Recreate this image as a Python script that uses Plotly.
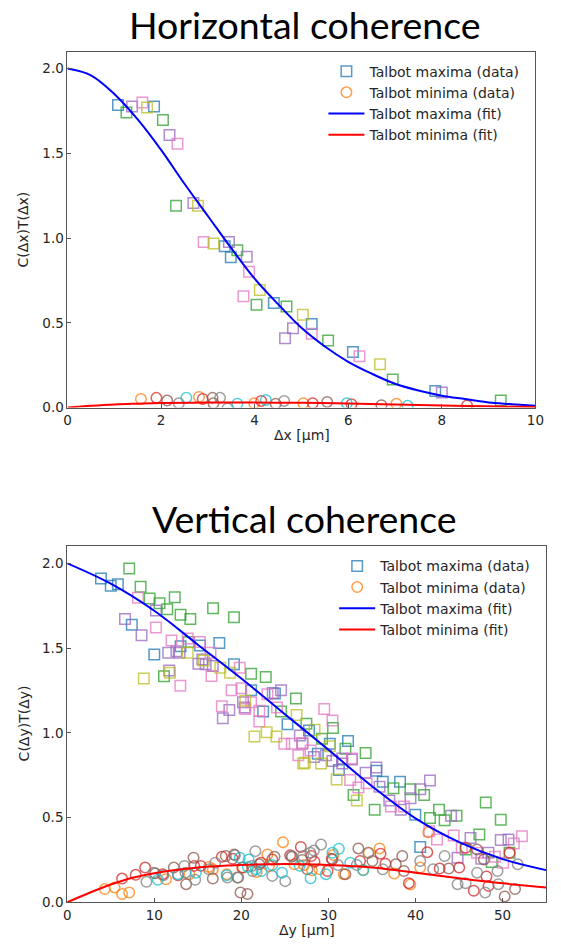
import plotly.graph_objects as go

W, H = 561, 948

# ---------------- Horizontal scan (Δx, μm) ----------------
# Talbot maxima, one list of (Δx, C·T) pairs per run
h_max_run1 = [(1.08, 1.785), (1.85, 1.776), (3.36, 0.951), (3.49, 0.887), (4.41, 0.616),
              (5.22, 0.493), (6.10, 0.327), (7.86, 0.097)]
h_max_run2 = [(1.26, 1.741), (2.04, 1.696), (2.32, 1.191), (3.63, 0.928), (4.04, 0.606),
              (4.68, 0.596), (5.57, 0.396), (6.95, 0.166), (9.26, 0.041)]
h_max_run3 = [(1.38, 1.776), (2.18, 1.608), (2.69, 1.206), (3.45, 0.977), (3.83, 0.889),
              (4.65, 0.409), (4.82, 0.468), (8.00, 0.088)]
h_max_run4 = [(1.60, 1.800), (2.35, 1.556), (2.91, 0.977), (3.76, 0.657), (3.88, 0.801),
              (5.22, 0.435), (6.24, 0.302)]
h_max_run5 = [(1.70, 1.770), (2.79, 1.191), (3.12, 0.967), (4.11, 0.694), (5.03, 0.548),
              (6.68, 0.255)]

# Talbot minima per run
h_min_run1 = [(1.57, 0.051), (2.81, 0.062), (3.99, 0.025), (5.04, 0.025), (7.03, 0.022)]
h_min_run2 = [(1.90, 0.057), (2.89, 0.051), (4.14, 0.039), (5.24, 0.025), (6.07, 0.019),
              (8.54, 0.012)]
h_min_run3 = [(2.13, 0.041), (3.10, 0.057), (3.12, 0.025), (4.45, 0.023), (5.55, 0.033),
              (6.71, 0.014)]
h_min_run4 = [(2.38, 0.025), (3.26, 0.057), (3.42, -0.005), (4.63, 0.039)]
h_min_run5 = [(2.54, 0.058), (3.63, 0.022), (4.24, 0.045), (5.97, 0.025), (7.27, 0.010)]

# Fitted curves
h_fit_x = [0, 0.5, 1, 1.5, 2, 2.5, 3, 3.5, 4, 4.5, 5, 5.5, 6, 6.5, 7, 7.5, 8, 8.5, 9, 9.5, 10]
h_fit_max = [2.00, 1.96, 1.85, 1.70, 1.52, 1.32, 1.13, 0.94, 0.76, 0.61, 0.47, 0.36, 0.27,
             0.20, 0.14, 0.10, 0.07, 0.05, 0.03, 0.02, 0.01]
h_fit_min_x = [0, 0.5, 1, 1.5, 2, 3, 4, 5, 6, 7, 8, 9, 10]
h_fit_min = [0.0, 0.010, 0.018, 0.023, 0.027, 0.029, 0.029, 0.028, 0.024, 0.018, 0.012,
             0.007, 0.003]

# ---------------- Vertical scan (Δy, μm) ----------------
v_max_run1 = [(3.88, 1.910), (5.00, 1.868), (5.82, 1.877), (7.42, 1.637), (10.0, 1.462),
              (13.02, 1.511), (15.26, 1.515), (17.47, 1.530), (19.15, 1.404), (21.12, 1.251),
              (22.5, 1.125), (23.85, 1.232), (25.3, 1.050), (27.77, 1.014), (30.16, 0.936),
              (28.78, 0.877), (32.25, 0.951), (31.2, 0.780), (35.5, 0.776), (36.24, 0.711),
              (38.22, 0.711), (39.98, 0.516), (40.54, 0.327)]
v_max_run2 = [(7.12, 1.969), (8.43, 1.862), (9.47, 1.793), (10.6, 1.764), (12.35, 1.799),
              (11.49, 1.729), (13.02, 1.696), (14.14, 1.672), (16.75, 1.735), (19.15, 1.682),
              (13.95, 1.536), (11.12, 1.333), (21.12, 1.349), (22.8, 1.329), (26.27, 1.203),
              (24.56, 1.125), (27.47, 1.053), (30.53, 1.029), (29.26, 0.965), (31.95, 0.906),
              (34.27, 0.881), (32.88, 0.633), (35.31, 0.546), (37.47, 0.673), (39.42, 0.667),
              (40.99, 0.633), (41.66, 0.497), (42.7, 0.546), (43.34, 0.484), (44.71, 0.510),
              (45.76, 0.312), (47.33, 0.400), (48.07, 0.589), (48.75, 0.238), (49.79, 0.487),
              (50.8, 0.292)]
v_max_run3 = [(10.19, 1.721), (6.64, 1.672), (8.54, 1.575), (11.6, 1.472), (12.91, 1.472),
              (12.54, 1.481), (11.71, 1.368), (15.07, 1.408), (15.9, 1.404), (15.52, 1.433),
              (16.72, 1.394), (18.62, 1.135), (17.87, 1.086), (20.38, 1.150), (20.19, 1.180),
              (24.56, 1.251), (23.6, 1.235), (26.72, 0.984), (27.0, 0.936), (28.33, 0.858),
              (29.71, 0.867), (30.46, 0.834), (31.58, 0.848), (31.58, 0.819), (32.7, 0.842),
              (35.5, 0.795), (34.27, 0.764), (35.87, 0.682), (36.99, 0.600), (39.42, 0.614),
              (40.54, 0.667), (41.66, 0.718), (38.3, 0.546), (44.08, 0.510), (44.83, 0.263),
              (46.32, 0.380), (47.55, 0.257), (48.38, 0.292), (49.79, 0.367), (50.68, 0.370)]
v_max_run4 = [(8.13, 1.797), (10.19, 1.622), (11.98, 1.544), (13.84, 1.556), (15.23, 1.536),
              (16.46, 1.472), (19.82, 1.384), (12.99, 1.277), (16.57, 1.335), (18.88, 1.251),
              (20.0, 1.263), (20.45, 1.140), (21.12, 1.180), (22.06, 1.130), (24.1, 1.150),
              (22.99, 1.228), (17.76, 1.156), (22.06, 1.066), (24.93, 0.936), (25.79, 0.936),
              (27.02, 0.940), (26.54, 0.867), (27.95, 0.896), (29.52, 1.140), (30.46, 1.072),
              (32.7, 0.848), (32.5, 0.721), (33.44, 0.678), (34.38, 0.702), (37.18, 0.565),
              (38.67, 0.565), (41.58, 0.419), (42.47, 0.370), (44.38, 0.394), (45.31, 0.322),
              (47.07, 0.292), (49.12, 0.269), (50.06, 0.234), (51.29, 0.347), (52.22, 0.390)]
v_max_run5 = [(13.84, 1.472), (15.7, 1.427), (17.58, 1.384), (8.8, 1.320), (11.8, 1.355),
              (18.7, 1.355), (20.45, 1.189), (21.5, 0.978), (22.91, 1.004), (24.03, 0.978),
              (26.35, 1.105), (28.4, 1.018), (27.1, 0.819), (27.28, 0.823), (29.15, 0.819),
              (30.16, 0.920), (30.94, 0.725), (33.26, 0.600)]

v_min_run1 = [(4.32, 0.078), (5.44, 0.088), (6.3, 0.049), (7.12, 0.058), (11.34, 0.136),
              (14.03, 0.166), (16.27, 0.209), (16.72, 0.195), (18.32, 0.166), (20.19, 0.205),
              (21.76, 0.179), (22.99, 0.282), (23.18, 0.215), (24.78, 0.355), (26.09, 0.224),
              (27.21, 0.220), (28.1, 0.189), (28.96, 0.195), (30.57, 0.279), (31.76, 0.166),
              (34.64, 0.292), (35.87, 0.318), (34.0, 0.190), (37.55, 0.170), (39.4, 0.105),
              (40.54, 0.205), (41.47, 0.413)]
v_min_run2 = [(6.3, 0.140), (7.87, 0.162), (8.95, 0.205), (10.97, 0.166), (12.72, 0.160),
              (14.59, 0.215), (15.34, 0.215), (17.76, 0.269), (19.0, 0.257), (20.11, 0.205),
              (22.24, 0.234), (23.55, 0.253), (25.6, 0.277), (26.83, 0.327), (28.03, 0.273),
              (28.4, 0.240), (29.9, 0.185), (30.38, 0.257), (33.63, 0.244), (35.98, 0.287),
              (36.54, 0.228), (39.23, 0.113), (41.35, 0.296), (42.77, 0.199), (45.02, 0.205),
              (45.76, 0.322), (46.69, 0.068), (48.15, 0.152), (48.38, 0.097), (50.8, 0.292)]
v_min_run3 = [(10.11, 0.171), (12.24, 0.205), (13.66, 0.107), (14.51, 0.263), (16.72, 0.140),
              (18.21, 0.273), (19.18, 0.282), (19.63, 0.146), (19.9, 0.058), (20.7, 0.049),
              (22.06, 0.224), (23.81, 0.269), (25.8, 0.269), (27.0, 0.250), (27.58, 0.195),
              (30.46, 0.253), (31.95, 0.166), (33.44, 0.318), (35.05, 0.244), (37.74, 0.224),
              (38.48, 0.273), (38.67, 0.185), (43.82, 0.199), (47.07, 0.312), (47.85, 0.253),
              (50.24, 0.035), (51.43, 0.078)]
v_min_run4 = [(9.1, 0.121), (9.92, 0.175), (11.04, 0.160), (13.47, 0.215), (13.58, 0.175),
              (14.7, 0.133), (16.27, 0.195), (17.0, 0.234), (18.4, 0.146), (19.26, 0.277),
              (19.55, 0.146), (21.2, 0.215), (21.3, 0.185), (21.61, 0.302), (23.55, 0.156),
              (25.04, 0.125), (25.79, 0.273), (27.1, 0.273), (27.92, 0.292), (28.33, 0.306),
              (29.15, 0.341), (31.09, 0.220), (33.26, 0.220), (34.56, 0.292), (36.24, 0.195),
              (40.54, 0.244), (42.03, 0.195), (43.34, 0.273), (44.83, 0.107), (45.76, 0.113),
              (47.07, 0.175), (48.0, 0.058), (49.42, 0.185), (49.5, 0.107), (51.74, 0.224)]
v_min_run5 = [(10.41, 0.133), (12.72, 0.166), (14.78, 0.175), (18.32, 0.160), (19.82, 0.263),
              (20.75, 0.209), (20.83, 0.253), (21.68, 0.195), (22.32, 0.185), (23.55, 0.220),
              (24.67, 0.175), (26.7, 0.215), (27.95, 0.142), (29.71, 0.166), (30.46, 0.292),
              (31.2, 0.316), (32.5, 0.234), (34.0, 0.189)]

v_fit_x = [0, 5, 10, 15, 20, 25, 30, 35, 40, 45, 50, 55]
v_fit_max = [2.00, 1.88, 1.72, 1.52, 1.32, 1.11, 0.90, 0.685, 0.495, 0.355, 0.255, 0.19]
v_fit_min_x = [0, 2.5, 5, 7.5, 10, 15, 20, 25, 30, 35, 40, 45, 50, 55]
v_fit_min = [0.0, 0.055, 0.105, 0.145, 0.172, 0.205, 0.22, 0.226, 0.22, 0.205, 0.175,
             0.142, 0.112, 0.088]

x_ticks_h = [0, 2, 4, 6, 8, 10]
x_ticks_v = [0, 10, 20, 30, 40, 50]
y_ticks = [0.0, 0.5, 1.0, 1.5, 2.0]

# matplotlib tab10 cycle: maxima take even slots, minima odd slots
MAX_COLORS = ["#1f77b4", "#2ca02c", "#9467bd", "#e377c2", "#bcbd22"]
MIN_COLORS = ["#ff7f0e", "#d62728", "#8c564b", "#7f7f7f", "#17becf"]

FONT = "DejaVu Sans"
TXT = "#262626"

fig = go.Figure()


def add_runs(runs, colors, symbol, xa, ya, legend, name, size):
    for i, (run, col) in enumerate(zip(runs, colors)):
        fig.add_trace(go.Scatter(
            x=[p[0] for p in run], y=[p[1] for p in run],
            mode="markers", xaxis=xa, yaxis=ya,
            marker=dict(symbol=symbol, size=size, color=col, opacity=0.75,
                        line=dict(width=1.5, color=col)),
            name=name, showlegend=(i == 0), legend=legend,
        ))


def add_fit(xs, ys, color, xa, ya, legend, name):
    fig.add_trace(go.Scatter(
        x=xs, y=ys, mode="lines", xaxis=xa, yaxis=ya,
        line=dict(color=color, width=2, shape="spline", smoothing=1.0),
        name=name, legend=legend,
    ))


# Horizontal panel
add_runs([h_max_run1, h_max_run2, h_max_run3, h_max_run4, h_max_run5], MAX_COLORS,
         "square-open", "x", "y", "legend", "Talbot maxima (data)", 10.5)
add_runs([h_min_run1, h_min_run2, h_min_run3, h_min_run4, h_min_run5], MIN_COLORS,
         "circle-open", "x", "y", "legend", "Talbot minima (data)", 10.5)
add_fit(h_fit_x, h_fit_max, "#0000ff", "x", "y", "legend", "Talbot maxima (fit)")
add_fit(h_fit_min_x, h_fit_min, "#ff0000", "x", "y", "legend", "Talbot minima (fit)")

# Vertical panel
add_runs([v_max_run1, v_max_run2, v_max_run3, v_max_run4, v_max_run5], MAX_COLORS,
         "square-open", "x2", "y2", "legend2", "Talbot maxima (data)", 10.5)
add_runs([v_min_run1, v_min_run2, v_min_run3, v_min_run4, v_min_run5], MIN_COLORS,
         "circle-open", "x2", "y2", "legend2", "Talbot minima (data)", 10.5)
add_fit(v_fit_x, v_fit_max, "#0000ff", "x2", "y2", "legend2", "Talbot maxima (fit)")
add_fit(v_fit_min_x, v_fit_min, "#ff0000", "x2", "y2", "legend2", "Talbot minima (fit)")


def px_x(p):
    return p / W


def px_y(p):
    return 1 - p / H


axis_common = dict(
    showline=True, mirror=True, linecolor="#555555", linewidth=1,
    ticks="inside", ticklen=4, tickwidth=1, tickcolor="#555555",
    showgrid=False, zeroline=False,
    tickfont=dict(family=FONT, size=13.5, color=TXT),
)

legend_common = dict(
    bgcolor="rgba(0,0,0,0)", borderwidth=0, traceorder="normal",
    font=dict(family=FONT, size=14, color=TXT), itemwidth=36,
    xanchor="left", yanchor="top", itemsizing="trace",
)

fig.update_layout(
    width=W, height=H, margin=dict(l=0, r=0, t=0, b=0),
    paper_bgcolor="white", plot_bgcolor="white",
    xaxis=dict(domain=[px_x(65), px_x(544)], range=[0, 10], tickvals=x_ticks_h,
               anchor="y", **axis_common),
    yaxis=dict(domain=[px_y(411), px_y(52)], range=[0, 2.1], tickvals=y_ticks,
               tickformat=".1f", anchor="x", **axis_common),
    xaxis2=dict(domain=[px_x(64.7), px_x(555)], range=[0, 55], tickvals=x_ticks_v,
                anchor="y2", **axis_common),
    yaxis2=dict(domain=[px_y(910), px_y(551)], range=[0, 2.1], tickvals=y_ticks,
                tickformat=".1f", anchor="x2", **axis_common),
    legend=dict(x=px_x(327), y=px_y(56), **legend_common),
    legend2=dict(x=px_x(338), y=px_y(555), **legend_common),
    showlegend=True,
)

annotations = [
    dict(text="Horizontal coherence", x=px_x(308), y=px_y(25), font=dict(family="Lato", size=37.5, color="black")),
    dict(text="Vertical coherence", x=px_x(308), y=px_y(523), font=dict(family="Lato", size=37.5, color="black")),
    dict(text="Δx [μm]", x=px_x(305), y=px_y(439), font=dict(family=FONT, size=14, color=TXT)),
    dict(text="Δy [μm]", x=px_x(310), y=px_y(938), font=dict(family=FONT, size=14, color=TXT)),
    dict(text="C(Δx)T(Δx)", x=px_x(20), y=px_y(232), textangle=-90, font=dict(family=FONT, size=14, color=TXT)),
    dict(text="C(Δy)T(Δy)", x=px_x(20), y=px_y(730), textangle=-90, font=dict(family=FONT, size=14, color=TXT)),
]
for a in annotations:
    fig.add_annotation(xref="paper", yref="paper", showarrow=False,
                       xanchor="center", yanchor="middle", **a)

fig.write_html("out.html")
